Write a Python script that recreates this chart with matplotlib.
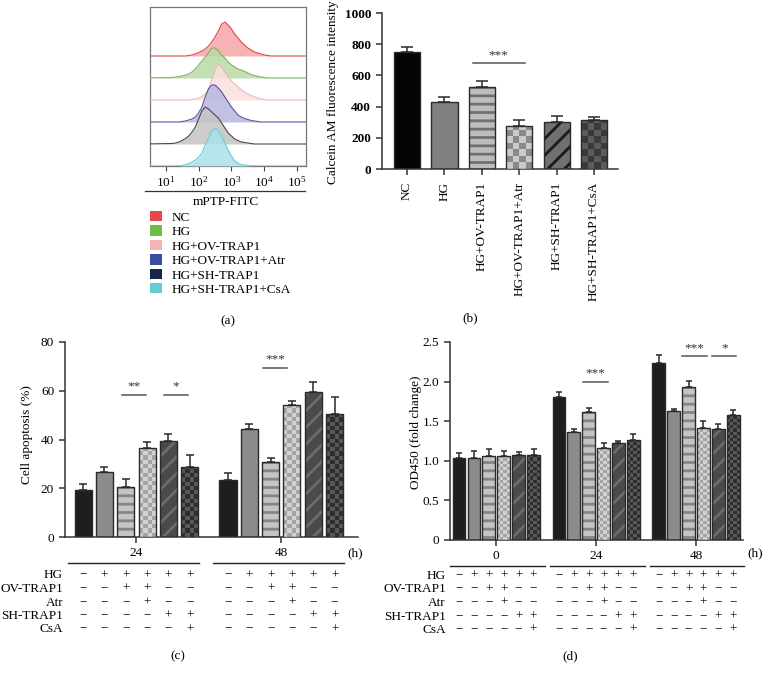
import numpy as np
import matplotlib
matplotlib.use("Agg")
import matplotlib.pyplot as plt
from matplotlib.patches import Rectangle, Patch
from matplotlib.colors import ListedColormap
from matplotlib.lines import Line2D
from matplotlib.ticker import FuncFormatter
from matplotlib.transforms import blended_transform_factory

W, H = 764, 674

plt.rcParams["font.family"] = ["Liberation Serif", "DejaVu Serif"]
plt.rcParams["mathtext.fontset"] = "custom"
plt.rcParams["mathtext.rm"] = "Liberation Serif"
plt.rcParams["font.size"] = 9.5
plt.rcParams["hatch.linewidth"] = 2.0

# ---------- data -------------------------------------------------------
GROUPS = ["NC", "HG", "HG+OV-TRAP1", "HG+OV-TRAP1+Atr",
          "HG+SH-TRAP1", "HG+SH-TRAP1+CsA"]

HIST_LOG_X = [1.2, 1.3, 1.4, 1.5, 1.6, 1.7, 1.8, 1.9, 2.0, 2.1, 2.2,
              2.3, 2.4, 2.5, 2.6, 2.7, 2.8, 2.9, 3.0, 3.1, 3.2, 3.3,
              3.4, 3.5, 3.6, 3.7, 3.8, 3.9, 4.0, 4.1, 4.2]
HIST_NC = [0, 0, 0, 0, 0, 0.5, 1, 2, 3.5, 5, 7, 10, 14, 19, 25, 32, 34, 31,
           27, 22, 18, 14, 11, 8, 6, 4, 3, 2, 1, 0.5, 0]
HIST_HG = [0.5, 1, 1.5, 2, 3, 4, 6, 9, 13, 17, 21, 25, 30, 30, 27, 23, 20,
           16, 13, 11, 9, 8, 6.5, 5, 3.5, 2.5, 1.5, 1, 0.5, 0, 0]
HIST_OV = [0, 0, 0, 0, 0, 0, 0.5, 1, 2, 3.5, 6, 11, 20, 31, 36, 33, 28,
           23, 19, 16, 13, 10, 8, 6, 4.5, 3, 2, 1, 0.5, 0, 0]
HIST_OV_ATR = [0, 0, 0, 0.5, 1, 2, 3, 5, 9, 15, 25, 33, 37, 37, 34, 30,
               25, 20, 15, 11, 7, 5, 3.5, 2.5, 1.5, 1, 0.5, 0, 0, 0, 0]
HIST_SH = [0.5, 1, 2, 3.5, 5.5, 8, 12, 17, 25, 33, 37, 35, 32, 29, 26, 21,
           16, 11, 8, 5, 3.5, 2, 1.5, 1, 0.5, 0, 0, 0, 0, 0, 0]
HIST_SH_CSA = [0, 0, 0, 0.5, 1.5, 2.5, 4, 6, 9, 13, 21, 28, 35, 38, 35, 30,
               23, 16, 10, 5, 3, 1.5, 1, 0.5, 0, 0, 0, 0, 0, 0, 0]

# (b) Calcein AM
CALCEIN = [750, 430, 525, 275, 300, 313]
CALCEIN_ERR = [30, 32, 37, 38, 40, 21]

# (c) cell apoptosis (%)
APOP_HOURS = ["24", "48"]
APOP = [[19.2, 26.5, 20.7, 36.6, 39.4, 28.7],
        [23.3, 44.2, 30.6, 54.2, 59.3, 50.3]]
APOP_ERR = [[2.7, 2.4, 3.1, 2.5, 3.0, 4.8],
            [2.8, 2.1, 1.9, 1.8, 4.2, 7.0]]

# (d) OD450 (fold change)
OD_HOURS = ["0", "24", "48"]
OD = [[1.04, 1.04, 1.06, 1.06, 1.07, 1.07],
      [1.81, 1.36, 1.61, 1.16, 1.23, 1.26],
      [2.23, 1.63, 1.93, 1.42, 1.40, 1.58]]
OD_ERR = [[0.06, 0.08, 0.09, 0.06, 0.04, 0.08],
          [0.06, 0.04, 0.06, 0.06, 0.02, 0.08],
          [0.10, 0.03, 0.08, 0.08, 0.07, 0.06]]

TABLE_ROWS = ["HG", "OV-TRAP1", "Atr", "SH-TRAP1", "CsA"]
TABLE_SIGNS = ["-+++++", "--++--", "---+--", "----++", "-----+"]

# significance bars: (x from, x to, y, label) in data units
SIG_B = [(1.75, 3.15, 680, "***")]
SIG_C = [(1.83, 2.96, 58.2, "**"), (3.8, 4.93, 58.2, "*"),
         (8.45, 9.58, 69.5, "***")]
SIG_D = [(8.3, 10.0, 2.0, "***"), (14.97, 16.64, 2.32, "***"),
         (16.98, 18.6, 2.32, "*")]

# ---------- styles -----------------------------------------------------
HIST_LINE = ["#e0474c", "#79b55a", "#f2b3b5", "#55559e", "#4a4a4a", "#72cdd6"]
HIST_FILL = ["#f4a7a6", "#b9daa6", "#fbe0e0", "#b8b5de", "#c4c4c4", "#a9e2e8"]
LEGEND_COL = ["#e8464c", "#6abf47", "#f5b3b3", "#3b4ca0", "#13294b", "#62cdd6"]
HIST_STEP = 22

EDGE = "#2a2a2a"
STYLE_B = [
    dict(kind="solid", fc="#050505"),
    dict(kind="solid", fc="#808080"),
    dict(kind="hatch", fc="#bdbdbd", hc="#707070", hatch="--"),
    dict(kind="checker", fc="#cacaca", hc="#8a8a8a", n=4),
    dict(kind="hatch", fc="#707070", hc="#1a1a1a", hatch="//"),
    dict(kind="checker", fc="#3a3a3a", hc="#5c5c5c", n=4),
]
STYLE_CD = [
    dict(kind="solid", fc="#1e1e1e"),
    dict(kind="solid", fc="#8c8c8c"),
    dict(kind="hatch", fc="#c4c4c4", hc="#858585", hatch="--"),
    dict(kind="checker", fc="#d2d2d2", hc="#a5a5a5", n=4),
    dict(kind="hatch", fc="#4a4a4a", hc="#6c6c6c", hatch="//"),
    dict(kind="checker", fc="#2e2e2e", hc="#585858", n=4),
]

fig = plt.figure(figsize=(W / 100, H / 100), dpi=100)


def frect(l, t, r, b):
    return [l / W, 1 - b / H, (r - l) / W, (b - t) / H]


def ftext(x, y, s, **kw):
    fig.text(x / W, 1 - y / H, s, **kw)


def fline(x0, x1, y, **kw):
    fig.add_artist(Line2D([x0 / W, x1 / W], [1 - y / H] * 2, **kw))


def checker(ax, x, w, h, c1, c2, ncols):
    x0, x1 = x - w / 2, x + w / 2
    (px0, py0), (px1, py1) = ax.transData.transform([(x0, 0), (x1, h)])
    cell = (px1 - px0) / ncols
    nrows = max(1, int(np.ceil((py1 - py0) / cell)))
    top = ax.transData.inverted().transform((px0, py0 + nrows * cell))[1]
    pat = np.add.outer(np.arange(nrows), np.arange(ncols)) % 2
    im = ax.imshow(pat, cmap=ListedColormap([c1, c2]), vmin=0, vmax=1,
                   extent=(x0, x1, 0, top), origin="lower",
                   interpolation="nearest", aspect="auto", zorder=3)
    im.set_clip_path(Rectangle((x0, 0), w, h, transform=ax.transData))


def draw_bars(ax, xs, vals, errs, styles, width, capsize, edge_lw=1.0):
    for x, v, st in zip(xs, vals, styles):
        if st["kind"] == "hatch":
            ax.bar(x, v, width, color=st["fc"], edgecolor=st["hc"],
                   hatch=st["hatch"], lw=0, zorder=2)
        else:
            ax.bar(x, v, width, color=st["fc"], lw=0, zorder=2)
        if st["kind"] == "checker":
            checker(ax, x, width, v, st["fc"], st["hc"], st["n"])
        ax.bar(x, v, width, fill=False, edgecolor=EDGE, lw=edge_lw, zorder=4)
    ax.errorbar(xs, vals, yerr=[np.zeros(len(vals)), errs], fmt="none",
                ecolor=EDGE, elinewidth=1.1, capsize=capsize, capthick=1.1,
                zorder=1)


def style_axes(ax):
    for s in ("top", "right"):
        ax.spines[s].set_visible(False)
    for s in ("left", "bottom"):
        ax.spines[s].set_color("#333333")
        ax.spines[s].set_linewidth(1.1)
    ax.tick_params(direction="out", length=4.3, width=1.1, color="#333333",
                   labelsize=9.5)


def draw_sig(ax, sigs, dy):
    for x0, x1, y, lab in sigs:
        ax.plot([x0, x1], [y, y], color="#555555", lw=1.1, zorder=5,
                clip_on=False)
        ax.text((x0 + x1) / 2, y + dy, lab, ha="center", va="bottom",
                fontsize=9.5, color="#333333")


def draw_table(ax, group_starts, label_x, y0, line_y, ext_l, ext_r):
    trans = blended_transform_factory(ax.transData, fig.transFigure)
    for g in group_starts:
        ax.add_artist(Line2D([g + ext_l, g + 5 + ext_r], [1 - line_y / H] * 2,
                             transform=trans, color="#222222", lw=1.0,
                             clip_on=False))
    for r, (name, signs) in enumerate(zip(TABLE_ROWS, TABLE_SIGNS)):
        y = y0 + 13.5 * r
        ftext(label_x, y, name, ha="right", va="center", fontsize=9.5)
        for g in group_starts:
            for k, s in enumerate(signs):
                ax.text(g + k, 1 - y / H, "+" if s == "+" else "\u2212",
                        transform=trans, ha="center", va="center",
                        fontsize=9.5, clip_on=False)


# ---------- (a) flow histograms ---------------------------------------
ax_a = fig.add_axes(frect(150, 7, 306, 166))
ax_a.set_xscale("log")
lx = np.array([0.3] + HIST_LOG_X + [5.5])
hists = [HIST_NC, HIST_HG, HIST_OV, HIST_OV_ATR, HIST_SH, HIST_SH_CSA]
for i, (vals, lc, fc) in enumerate(zip(hists, HIST_LINE, HIST_FILL)):
    base = HIST_STEP * (5 - i)
    y = base + np.array([0] + vals + [0])
    ax_a.fill_between(10 ** lx, base, y, color=fc, alpha=0.85, lw=0,
                      zorder=2 + i)
    ax_a.plot(10 ** lx, y, color=lc, lw=0.8, zorder=2 + i)
ax_a.set_xlim(10 ** 0.52, 10 ** 5.27)
ax_a.set_ylim(0, 159)
ax_a.set_yticks([])
ax_a.set_xticks([1e1, 1e2, 1e3, 1e4, 1e5])
ax_a.tick_params(axis="x", which="major", length=3.5, width=0.8,
                 color="#444444", labelsize=9.5, pad=3)
ax_a.tick_params(axis="x", which="minor", length=2, width=0.6,
                 color="#444444")
for s in ax_a.spines.values():
    s.set_color("#777777")
    s.set_linewidth(0.9)
fline(145, 305, 191, color="#333333", lw=0.9)
ftext(226, 202, "mPTP-FITC", ha="center", va="center", fontsize=9.5)
fig.legend([Patch(fc=c, ec="none") for c in LEGEND_COL], GROUPS,
           loc="upper left", bbox_to_anchor=(150 / W, 1 - 211 / H),
           frameon=False, fontsize=9.5, handlelength=0.9, handleheight=0.8,
           handletextpad=0.7, labelspacing=0.14, borderpad=0,
           borderaxespad=0)
ftext(228, 321, "(a)", ha="center", va="center", fontsize=9.5)

# ---------- (b) Calcein AM ---------------------------------------------
ax_b = fig.add_axes(frect(382, 13, 618, 169))
xb = np.arange(len(GROUPS))
ax_b.set_xlim(-0.67, 5.64)
ax_b.set_ylim(0, 1000)
style_axes(ax_b)
draw_bars(ax_b, xb, CALCEIN, CALCEIN_ERR, STYLE_B, 0.7, 4)
ax_b.set_yticks([0, 200, 400, 600, 800, 1000])
for t in ax_b.get_yticklabels():
    t.set_fontweight("bold")
ax_b.set_xticks(xb, GROUPS, rotation=90)
ax_b.tick_params(axis="x", pad=5)
draw_sig(ax_b, SIG_B, 12)
ftext(333, 92, "Calcein AM fluorescence intensity", rotation=90,
      ha="center", va="center", fontsize=9.5)
ftext(470, 318, "(b)", ha="center", va="center", fontsize=9.5)

# ---------- (c) apoptosis ---------------------------------------------
ax_c = fig.add_axes(frect(65, 342, 358, 537))
c_starts = [0, 6.8]
ax_c.set_xlim(-0.85, 12.9)
ax_c.set_ylim(0, 80)
style_axes(ax_c)
for g, vals, errs in zip(c_starts, APOP, APOP_ERR):
    draw_bars(ax_c, g + np.arange(6), vals, errs, STYLE_CD, 0.8, 3)
ax_c.set_yticks([0, 20, 40, 60, 80])
ax_c.set_xticks([g + 2.5 for g in c_starts], APOP_HOURS)
ax_c.tick_params(axis="x", pad=3)
draw_sig(ax_c, SIG_C, 1.0)
draw_table(ax_c, c_starts, 63, 575.5, 563, -0.7, 0.45)
ftext(355, 553, "(h)", ha="center", va="center", fontsize=9.5)
ftext(27, 435, "Cell apoptosis (%)", rotation=90, ha="center",
      va="center", fontsize=9.5)
ftext(178, 656, "(c)", ha="center", va="center", fontsize=9.5)

# ---------- (d) OD450 ---------------------------------------------------
ax_d = fig.add_axes(frect(450, 342, 743, 540))
d_starts = [0, 6.7, 13.4]
ax_d.set_xlim(-0.6, 19.05)
ax_d.set_ylim(0, 2.5)
style_axes(ax_d)
for g, vals, errs in zip(d_starts, OD, OD_ERR):
    draw_bars(ax_d, g + np.arange(6), vals, errs, STYLE_CD, 0.85, 2.5)
ax_d.set_yticks([0, 0.5, 1.0, 1.5, 2.0, 2.5])
ax_d.yaxis.set_major_formatter(
    FuncFormatter(lambda v, p: "0" if v == 0 else f"{v:.1f}"))
ax_d.set_xticks([g + 2.5 for g in d_starts], OD_HOURS)
ax_d.tick_params(axis="x", pad=3)
draw_sig(ax_d, SIG_D, 0.03)
draw_table(ax_d, d_starts, 446, 576, 566, -0.6, 0.75)
ftext(755, 553, "(h)", ha="center", va="center", fontsize=9.5)
ftext(416, 432, "OD450 (fold change)", rotation=90, ha="center",
      va="center", fontsize=9.5)
ftext(570, 656, "(d)", ha="center", va="center", fontsize=9.5)

fig.savefig("out.png", dpi=100)
